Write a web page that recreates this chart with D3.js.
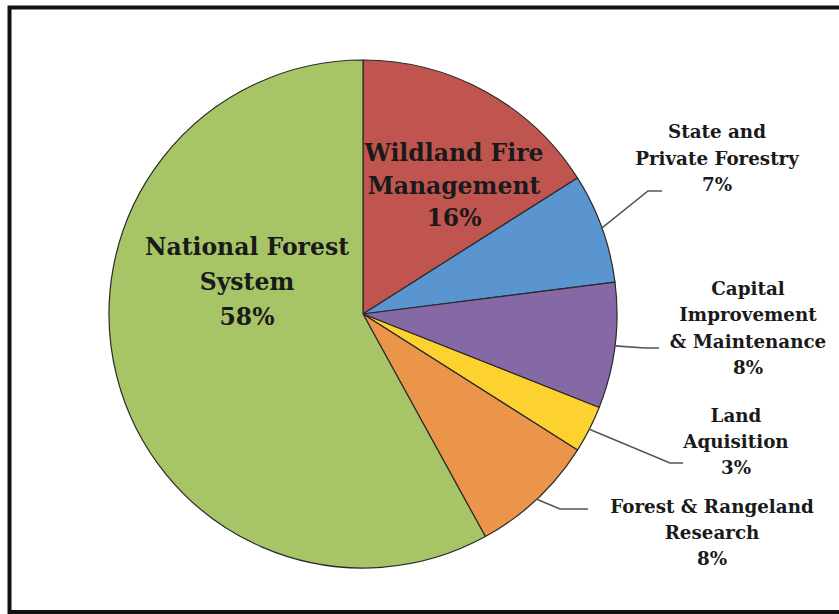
<!DOCTYPE html>
<html>
<head>
<meta charset="utf-8">
<script src="https://cdn.jsdelivr.net/npm/d3@7"></script>
<style>
  html, body { margin: 0; padding: 0; background: #fff; }
  svg { display: block; }
  text { font-family: "DejaVu Serif", "Liberation Serif", serif; font-weight: bold; fill: #1a1a1a; }
</style>
</head>
<body>
<svg id="chart" width="839" height="614"></svg>
<script>
// Forest Service budget shares (percent), clockwise from 12 o'clock
const categories = [
  "Wildland Fire Management",
  "State and Private Forestry",
  "Capital Improvement & Maintenance",
  "Land Aquisition",
  "Forest & Rangeland Research",
  "National Forest System"
];
const shares = [16, 7, 8, 3, 8, 58];
const colors = ["#C0554F", "#5A95D0", "#8469A6", "#FDD12F", "#EA954A", "#A7C466"];

// Label lines for each slice
const labelLines = [
  ["Wildland Fire", "Management", "16%"],
  ["State and", "Private Forestry", "7%"],
  ["Capital", "Improvement", "& Maintenance", "8%"],
  ["Land", "Aquisition", "3%"],
  ["Forest & Rangeland", "Research", "8%"],
  ["National Forest", "System", "58%"]
];

const svg = d3.select("#chart");
const cx = 363, cy = 314, R = 254;

// outer frame
svg.append("rect")
  .attr("x", 9.5).attr("y", 7.5)
  .attr("width", 850).attr("height", 604.5)
  .attr("fill", "none").attr("stroke", "#111").attr("stroke-width", 4);

const data = categories.map((c, i) => ({ name: c, value: shares[i], color: colors[i], lines: labelLines[i] }));

const pie = d3.pie().sort(null).value(d => d.value);
const arcs = pie(data);
const arc = d3.arc().innerRadius(0).outerRadius(R);

const g = svg.append("g").attr("transform", `translate(${cx},${cy})`);

g.selectAll("path.slice")
  .data(arcs)
  .join("path")
  .attr("class", "slice")
  .attr("d", arc)
  .attr("fill", d => d.data.color)
  .attr("stroke", "#2a2a2a")
  .attr("stroke-width", 1.2)
  .attr("stroke-linejoin", "round");

// Labels drawn inside the two large slices
const inside = {
  0: { x: 454, y: 161, size: 23.5, gap: 32.5 },
  5: { x: 247, y: 255, size: 23.5, gap: 35 }
};
// Labels placed outside with leader lines
const outside = {
  1: { x: 717, y: 138, size: 18.3, gap: 26.5, elbow: [648, 191], end: [662, 191] },
  2: { x: 748, y: 295, size: 18.3, gap: 26.3, elbow: [645, 348], end: [659, 348] },
  3: { x: 736, y: 422, size: 18.3, gap: 26, elbow: [670, 463], end: [683, 463] },
  4: { x: 712, y: 513, size: 18.3, gap: 26, elbow: [560, 509], end: [588, 509] }
};

const line = d3.line();

arcs.forEach((a, i) => {
  const spec = inside[i] || outside[i];
  if (outside[i]) {
    const mid = (a.startAngle + a.endAngle) / 2;
    const start = [cx + R * Math.sin(mid), cy - R * Math.cos(mid)];
    svg.append("path")
      .attr("d", line([start, spec.elbow, spec.end]))
      .attr("fill", "none")
      .attr("stroke", "#555")
      .attr("stroke-width", 1.6);
  }
  const t = svg.append("text")
    .attr("text-anchor", "middle")
    .attr("font-size", spec.size);
  a.data.lines.forEach((s, k) => {
    t.append("tspan")
      .attr("x", spec.x)
      .attr("y", spec.y + k * spec.gap)
      .text(s);
  });
});
</script>
</body>
</html>
